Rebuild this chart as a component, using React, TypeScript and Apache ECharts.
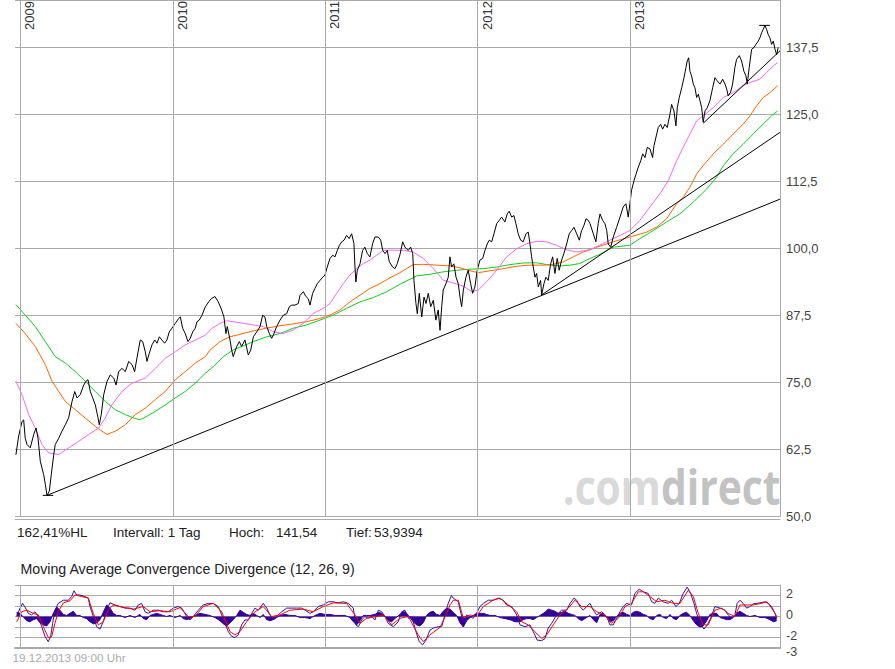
import React, { useEffect, useRef } from "react";
import * as echarts from "echarts";

const FONT = '"Liberation Sans", Arial, Helvetica, sans-serif';

// time axis: decimal years
const T_MIN = 2008.964;
const T_MAX = 2013.984;
const yearTicks = [2009, 2010, 2011, 2012, 2013];
const macdLabelValues = [2, 0, -2];
const macdBottomLabel = [-3];

// closing prices [decimal year, value]
const price2009 = [
  [2008.970,61.5],[2008.988,65.0],[2009.010,67.7],[2009.021,68.0],[2009.031,64.6],[2009.043,63.4],[2009.064,62.8],[2009.087,65.3],[2009.102,66.5],[2009.115,64.6],
  [2009.130,60.3],[2009.152,57.8],[2009.163,56.0],[2009.174,53.94],[2009.189,54.7],[2009.202,57.8],[2009.218,61.5],[2009.228,63.4],[2009.251,64.6],[2009.272,65.9],
  [2009.294,67.1],[2009.316,68.4],[2009.338,71.4],[2009.356,73.3],[2009.371,72.1],[2009.392,72.7],[2009.415,74.5],[2009.430,75.2],[2009.443,75.5],[2009.458,73.3],
  [2009.474,72.1],[2009.491,70.8],[2009.509,68.4],[2009.517,67.1],[2009.530,69.0],[2009.546,72.7],[2009.568,75.2],[2009.589,76.4],[2009.612,75.8],[2009.627,74.5],
  [2009.644,77.0],[2009.666,77.6],[2009.688,77.0],[2009.710,78.9],[2009.732,78.3],[2009.749,77.0],[2009.764,79.5],[2009.786,82.9],[2009.802,82.6],[2009.819,80.7],
  [2009.830,78.9],[2009.845,80.4],[2009.863,82.0],[2009.881,82.9],[2009.896,82.3],[2009.911,83.5],[2009.928,82.9],[2009.946,82.3],[2009.961,82.9],[2009.976,84.4],
  [2009.994,85.1]
];
const price2010 = [
  [2010.016,86.0],[2010.038,86.9],[2010.049,87.2],[2010.064,85.1],[2010.081,84.1],[2010.099,82.6],[2010.114,83.2],[2010.130,84.4],[2010.147,85.1],[2010.158,86.3],
  [2010.173,86.6],[2010.191,87.5],[2010.213,89.1],[2010.235,90.0],[2010.252,90.6],[2010.276,91.0],[2010.298,90.0],[2010.320,88.5],[2010.335,87.2],[2010.348,84.1],
  [2010.357,85.4],[2010.375,82.9],[2010.386,81.0],[2010.396,79.8],[2010.419,81.7],[2010.436,82.6],[2010.451,81.7],[2010.473,82.9],[2010.495,80.1],[2010.511,81.0],
  [2010.528,83.5],[2010.550,84.4],[2010.572,85.4],[2010.589,87.5],[2010.604,87.2],[2010.616,85.4],[2010.633,84.1],[2010.648,83.2],[2010.659,83.8],[2010.681,85.4],
  [2010.703,86.6],[2010.724,87.5],[2010.747,87.8],[2010.764,89.1],[2010.780,89.4],[2010.801,89.4],[2010.823,89.7],[2010.834,91.2],[2010.856,91.9],[2010.873,91.0],
  [2010.888,90.6],[2010.900,89.4],[2010.917,91.6],[2010.932,92.5],[2010.948,93.4],[2010.965,94.0],[2010.983,94.6],[2010.998,95.0]
];
const price2011 = [
  [2011.013,96.5],[2011.031,98.1],[2011.049,98.7],[2011.064,98.4],[2011.079,99.6],[2011.092,100.5],[2011.108,101.2],[2011.123,101.5],[2011.140,102.4],[2011.157,101.8],
  [2011.173,102.7],[2011.188,100.9],[2011.195,96.5],[2011.201,93.7],[2011.210,95.9],[2011.228,97.1],[2011.245,99.6],[2011.260,100.2],[2011.276,99.0],[2011.293,98.4],
  [2011.311,100.9],[2011.326,102.1],[2011.348,102.1],[2011.364,101.5],[2011.377,99.6],[2011.392,99.0],[2011.407,99.6],[2011.420,97.5],[2011.442,96.5],[2011.457,96.2],
  [2011.472,97.1],[2011.490,98.8],[2011.508,101.2],[2011.523,100.2],[2011.545,99.6],[2011.560,100.2],[2011.574,99.0],[2011.582,94.0],[2011.595,89.7],[2011.604,87.8],
  [2011.617,91.6],[2011.633,87.2],[2011.648,90.9],[2011.661,89.7],[2011.676,91.6],[2011.692,89.1],[2011.709,90.3],[2011.726,86.6],[2011.741,88.5],[2011.753,84.7],
  [2011.764,89.1],[2011.774,92.2],[2011.792,93.4],[2011.807,94.6],[2011.818,98.4],[2011.829,96.5],[2011.844,97.1],[2011.858,94.6],[2011.873,93.4],[2011.884,90.9],
  [2011.895,89.1],[2011.906,92.2],[2011.923,94.6],[2011.938,95.9],[2011.954,93.4],[2011.967,91.6],[2011.982,92.8],[2011.997,95.9]
];
const price2012 = [
  [2012.015,97.8],[2012.033,98.1],[2012.048,99.6],[2012.063,100.8],[2012.076,101.5],[2012.092,101.2],[2012.107,102.7],[2012.125,104.6],[2012.142,105.2],[2012.157,105.8],
  [2012.179,104.9],[2012.194,106.4],[2012.207,106.9],[2012.223,105.8],[2012.238,106.1],[2012.251,104.6],[2012.266,102.7],[2012.282,101.5],[2012.299,101.2],[2012.317,102.7],
  [2012.332,103.0],[2012.343,100.9],[2012.354,98.4],[2012.365,96.5],[2012.376,94.6],[2012.387,95.3],[2012.398,92.8],[2012.413,94.0],[2012.420,91.3],[2012.435,93.4],
  [2012.448,94.6],[2012.463,94.0],[2012.479,97.1],[2012.492,98.4],[2012.507,95.3],[2012.522,98.1],[2012.535,95.9],[2012.551,97.8],[2012.566,99.0],[2012.584,100.8],
  [2012.601,102.7],[2012.617,103.3],[2012.632,103.9],[2012.650,102.7],[2012.667,101.5],[2012.682,103.3],[2012.698,104.3],[2012.711,105.5],[2012.726,105.2],[2012.737,104.6],
  [2012.759,102.7],[2012.776,101.2],[2012.791,104.6],[2012.803,106.4],[2012.820,105.2],[2012.835,104.6],[2012.847,103.3],[2012.857,100.8],[2012.873,100.2],[2012.890,102.1],
  [2012.912,103.9],[2012.934,105.8],[2012.955,107.7],[2012.973,108.3],[2012.988,105.8],[2012.999,108.3]
];
const price2013 = [
  [2013.010,110.8],[2013.026,112.6],[2013.039,113.8],[2013.054,115.1],[2013.070,116.3],[2013.083,117.6],[2013.098,116.9],[2013.113,118.8],[2013.131,118.5],[2013.148,116.9],
  [2013.157,119.1],[2013.175,121.3],[2013.185,122.5],[2013.201,123.1],[2013.214,122.2],[2013.229,123.1],[2013.244,122.5],[2013.262,125.0],[2013.273,126.8],[2013.288,125.6],
  [2013.301,122.8],[2013.310,126.2],[2013.323,128.1],[2013.339,129.9],[2013.354,131.8],[2013.367,133.7],[2013.375,134.9],[2013.385,135.5],[2013.393,133.0],[2013.404,132.1],
  [2013.415,130.6],[2013.426,129.9],[2013.437,128.1],[2013.448,128.7],[2013.459,127.5],[2013.470,126.2],[2013.480,123.5],[2013.492,125.6],[2013.507,126.2],[2013.524,127.5],
  [2013.542,129.9],[2013.557,131.8],[2013.572,131.2],[2013.590,130.6],[2013.608,131.5],[2013.623,130.6],[2013.634,129.7],[2013.644,128.4],[2013.660,129.1],[2013.673,130.6],
  [2013.688,133.7],[2013.699,135.2],[2013.717,135.9],[2013.732,134.9],[2013.747,133.0],[2013.761,132.1],[2013.769,130.6],[2013.782,133.7],[2013.798,137.1],[2013.813,137.4],
  [2013.826,138.0],[2013.841,138.6],[2013.852,139.2],[2013.864,140.2],[2013.874,140.8],[2013.885,141.54],[2013.896,140.8],[2013.907,139.8],[2013.918,139.2],[2013.929,138.0],
  [2013.940,138.6],[2013.951,137.1],[2013.962,136.1],[2013.972,137.4]
];

// moving averages (pink, orange, green)
const maPink = [
  [2008.970,75.2],[2009.010,72.7],[2009.054,69.0],[2009.097,66.5],[2009.141,63.4],[2009.185,61.85],[2009.251,61.55],[2009.316,62.8],[2009.382,64.0],[2009.448,65.3],
  [2009.513,66.5],[2009.556,68.35],[2009.600,70.8],[2009.666,73.3],[2009.732,74.85],[2009.819,75.8],[2009.885,77.6],[2009.950,79.5],[2010.016,80.7],[2010.081,82.0],
  [2010.147,82.9],[2010.213,83.8],[2010.257,85.1],[2010.309,86.0],[2010.353,86.5],[2010.396,86.3],[2010.462,86.0],[2010.528,85.7],[2010.593,85.4],[2010.659,84.45],
  [2010.724,84.1],[2010.790,84.75],[2010.856,86.0],[2010.921,87.85],[2010.987,88.8],[2011.031,89.7],[2011.075,91.6],[2011.118,93.4],[2011.162,95.0],[2011.206,96.2],
  [2011.249,97.15],[2011.293,97.8],[2011.337,98.7],[2011.381,99.6],[2011.425,99.65],[2011.512,99.6],[2011.577,99.3],[2011.643,98.1],[2011.709,96.2],[2011.774,94.05],
  [2011.840,93.55],[2011.906,92.95],[2011.961,91.9],[2012.004,92.2],[2012.059,93.75],[2012.125,95.9],[2012.190,98.4],[2012.256,99.9],[2012.322,100.85],[2012.387,101.3],
  [2012.453,101.2],[2012.518,100.55],[2012.584,99.7],[2012.650,99.3],[2012.715,99.6],[2012.759,100.0],[2012.847,101.2],[2012.934,102.4],[2012.999,103.3],[2013.065,105.2],
  [2013.131,107.7],[2013.196,110.15],[2013.251,112.6],[2013.306,116.35],[2013.349,118.8],[2013.393,121.3],[2013.437,123.75],[2013.480,124.7],[2013.546,126.2],[2013.612,128.1],
  [2013.677,129.0],[2013.743,130.3],[2013.787,130.9],[2013.852,131.5],[2013.896,132.75],[2013.940,134.0],[2013.969,134.6]
];
const maOrange = [
  [2008.970,86.0],[2009.031,84.1],[2009.097,81.7],[2009.163,78.3],[2009.207,75.2],[2009.251,73.3],[2009.294,71.45],[2009.360,69.9],[2009.425,68.35],[2009.491,66.8],
  [2009.535,65.9],[2009.568,65.3],[2009.622,65.9],[2009.688,67.1],[2009.753,69.0],[2009.819,70.2],[2009.885,71.8],[2009.950,73.3],[2010.016,75.5],[2010.081,77.0],
  [2010.147,78.6],[2010.213,79.8],[2010.243,81.0],[2010.309,82.6],[2010.375,83.5],[2010.440,83.95],[2010.528,84.6],[2010.616,85.1],[2010.703,85.55],[2010.790,85.9],
  [2010.878,86.3],[2010.965,86.9],[2011.031,87.55],[2011.096,88.5],[2011.162,90.0],[2011.228,91.25],[2011.293,92.5],[2011.359,93.4],[2011.425,94.5],[2011.490,95.45],
  [2011.577,96.95],[2011.643,97.0],[2011.731,96.85],[2011.818,96.7],[2011.884,96.35],[2011.950,95.8],[2012.004,95.45],[2012.081,95.8],[2012.168,96.2],[2012.256,96.65],
  [2012.343,96.85],[2012.430,96.85],[2012.496,97.0],[2012.562,97.45],[2012.627,98.4],[2012.693,99.3],[2012.737,99.7],[2012.781,100.2],[2012.890,101.2],[2012.999,102.1],
  [2013.109,103.0],[2013.175,103.95],[2013.240,105.5],[2013.306,108.3],[2013.349,109.5],[2013.393,111.4],[2013.437,113.85],[2013.480,115.4],[2013.546,117.6],[2013.612,119.4],
  [2013.677,121.3],[2013.743,123.15],[2013.787,124.7],[2013.831,126.55],[2013.874,128.1],[2013.918,129.0],[2013.969,130.3]
];
const maGreen = [
  [2008.970,89.5],[2009.031,87.55],[2009.097,85.4],[2009.163,82.6],[2009.228,79.8],[2009.294,78.6],[2009.360,77.0],[2009.425,75.2],[2009.491,73.3],[2009.556,71.45],
  [2009.622,69.9],[2009.688,69.0],[2009.753,68.25],[2009.786,68.05],[2009.819,68.5],[2009.885,69.6],[2009.950,70.8],[2010.016,72.1],[2010.081,73.3],[2010.147,74.85],
  [2010.213,76.7],[2010.265,77.95],[2010.331,79.8],[2010.396,81.05],[2010.462,81.8],[2010.528,82.6],[2010.616,83.5],[2010.703,84.1],[2010.790,85.1],[2010.878,85.7],
  [2010.965,86.6],[2011.053,87.55],[2011.140,88.8],[2011.228,90.0],[2011.315,90.8],[2011.403,91.9],[2011.490,93.3],[2011.600,94.85],[2011.687,95.15],[2011.774,95.6],
  [2011.862,95.9],[2011.950,96.1],[2012.037,96.2],[2012.125,96.5],[2012.212,96.95],[2012.299,97.25],[2012.387,97.3],[2012.474,96.85],[2012.540,96.7],[2012.606,96.85],
  [2012.671,97.15],[2012.715,97.8],[2012.803,98.9],[2012.890,100.2],[2012.999,100.55],[2013.065,101.8],[2013.152,103.3],[2013.240,104.9],[2013.327,106.4],[2013.415,108.6],
  [2013.503,111.05],[2013.568,113.25],[2013.612,115.4],[2013.677,117.6],[2013.743,119.4],[2013.808,121.3],[2013.874,123.15],[2013.929,124.7],[2013.969,125.6]
];

// trend lines and high / low markers
const trendLong = [[2009.174, 53.94], [2013.984, 109.15]];
const trendMid = [[2012.420, 91.3], [2013.984, 121.6]];
const trendShort = [[2013.480, 123.3], [2013.984, 136.8]];
const highMark = [[2013.848, 141.54], [2013.918, 141.54]];
const lowMark = [[2009.146, 53.94], [2009.215, 53.94]];

// MACD (12, 26, 9)
const macdLine = [
  [2008.975,0],[2008.997,0.8],[2009.014,1.25],[2009.030,0.9],[2009.051,0.3],[2009.073,0.15],[2009.095,0.45],[2009.117,0],[2009.139,-0.97],[2009.161,-1.9],
  [2009.182,-2.4],[2009.198,-1.9],[2009.211,-0.65],[2009.226,0.6],[2009.248,1.25],[2009.281,1.55],[2009.314,1.55],[2009.336,1.9],[2009.351,2.45],[2009.369,2.05],
  [2009.390,2.05],[2009.423,1.9],[2009.445,1.75],[2009.456,0.95],[2009.478,0],[2009.500,-0.97],[2009.522,-1.2],[2009.543,-0.5],[2009.566,0.6],[2009.587,1.3],
  [2009.620,1.1],[2009.653,0.95],[2009.686,0.8],[2009.719,0.8],[2009.751,0.6],[2009.773,1.1],[2009.795,1.25],[2009.817,0.45],[2009.839,0.3],[2009.871,0.6],
  [2009.904,0.6],[2009.937,0.45],[2009.970,0.45],[2010.003,0.8],[2010.035,0.95],[2010.058,0.8],[2010.091,0],[2010.112,-0.33],[2010.134,0],[2010.167,0.6],
  [2010.199,1.1],[2010.232,1.25],[2010.265,1.25],[2010.298,0.95],[2010.320,0.15],[2010.342,-0.65],[2010.364,-1.45],[2010.386,-1.9],[2010.407,-2.0],[2010.429,-1.75],
  [2010.451,-0.8],[2010.473,-0.33],[2010.495,-0.33],[2010.517,0.3],[2010.539,0.8],[2010.560,0.6],[2010.593,1.25],[2010.616,0.8],[2010.637,0.15],[2010.659,-0.33],
  [2010.681,0],[2010.714,0.45],[2010.747,0.8],[2010.780,0.8],[2010.812,0.8],[2010.845,0.8],[2010.867,0.6],[2010.900,0.3],[2010.921,0.45],[2010.954,0.95],
  [2010.987,1.1],[2011.020,1.4],[2011.052,1.4],[2011.085,1.3],[2011.118,1.4],[2011.151,1.25],[2011.184,0.8],[2011.201,-0.8],[2011.217,-0.97],[2011.239,-0.33],
  [2011.260,0],[2011.282,-0.17],[2011.304,0],[2011.326,-0.33],[2011.348,0.6],[2011.370,0.45],[2011.392,0],[2011.413,-0.65],[2011.446,-0.97],[2011.479,-0.5],
  [2011.501,0.45],[2011.523,0.6],[2011.545,-0.17],[2011.567,0],[2011.595,-1.45],[2011.617,-2.4],[2011.639,-2.7],[2011.661,-2.25],[2011.687,-1.3],[2011.709,-1.1],
  [2011.741,-0.97],[2011.764,-0.97],[2011.785,0.15],[2011.807,1.25],[2011.828,2.0],[2011.840,1.75],[2011.873,1.4],[2011.895,0],[2011.910,-0.5],[2011.928,0.15],
  [2011.950,0],[2011.971,-0.17],[2011.993,0.3],[2012.015,0.95],[2012.037,1.25],[2012.070,1.55],[2012.102,1.55],[2012.135,1.75],[2012.168,1.55],[2012.190,1.1],
  [2012.223,0.95],[2012.256,0.15],[2012.278,-0.8],[2012.310,-0.97],[2012.343,-0.8],[2012.365,-1.45],[2012.391,-2.25],[2012.420,-2.3],[2012.442,-2.1],[2012.463,-1.1],
  [2012.486,-0.65],[2012.518,0.15],[2012.551,0.6],[2012.584,0.6],[2012.606,1.25],[2012.632,1.75],[2012.650,1.55],[2012.671,0.95],[2012.693,0.6],[2012.715,0.95],
  [2012.737,1.25],[2012.759,0.6],[2012.781,0.15],[2012.814,0.45],[2012.847,0],[2012.868,-0.8],[2012.890,-0.8],[2012.912,-0.17],[2012.934,0.45],[2012.955,0.95],
  [2012.978,1.25],[2013.010,1.1],[2013.032,2.2],[2013.060,2.6],[2013.087,2.35],[2013.119,2.2],[2013.142,1.4],[2013.163,1.25],[2013.185,1.75],[2013.218,1.4],
  [2013.251,1.25],[2013.273,1.55],[2013.301,0.95],[2013.323,1.25],[2013.349,2.2],[2013.375,2.8],[2013.398,2.2],[2013.419,1.25],[2013.437,0.3],[2013.459,-0.65],
  [2013.485,-1.2],[2013.507,-0.8],[2013.529,-0.17],[2013.557,0.95],[2013.590,0.8],[2013.623,0.6],[2013.644,0.15],[2013.667,-0.17],[2013.688,0.15],[2013.703,1.25],
  [2013.721,1.55],[2013.743,1.25],[2013.765,0.8],[2013.787,0.95],[2013.808,1.2],[2013.852,1.3],[2013.885,1.4],[2013.907,1.25],[2013.929,0.8],[2013.951,0.3],
  [2013.962,-0.17]
];
const signalLine = [
  [2008.975,-0.5],[2009.008,0.45],[2009.041,0.6],[2009.084,0.3],[2009.117,0.15],[2009.150,-0.97],[2009.182,-2.0],[2009.205,-1.9],[2009.226,-0.65],[2009.248,0.45],
  [2009.281,1.3],[2009.325,1.5],[2009.358,2.05],[2009.402,1.9],[2009.445,1.75],[2009.478,0.3],[2009.511,-0.8],[2009.543,-0.5],[2009.576,0.6],[2009.609,1.1],
  [2009.675,0.87],[2009.740,0.7],[2009.806,0.95],[2009.850,0.45],[2009.915,0.55],[2009.981,0.45],[2010.047,0.85],[2010.101,0],[2010.145,0],[2010.199,0.95],
  [2010.265,1.25],[2010.320,0.45],[2010.375,-1.45],[2010.407,-1.75],[2010.440,-1.45],[2010.484,-0.5],[2010.539,0.45],[2010.593,0.95],[2010.648,0],[2010.703,0.15],
  [2010.768,0.6],[2010.856,0.7],[2010.921,0.45],[2010.987,0.95],[2011.052,1.3],[2011.140,1.25],[2011.195,0.15],[2011.228,-0.65],[2011.272,-0.17],[2011.337,0],
  [2011.381,0.15],[2011.436,-0.8],[2011.490,-0.17],[2011.545,0],[2011.610,-1.75],[2011.643,-2.4],[2011.687,-1.75],[2011.753,-1.03],[2011.797,0.3],[2011.818,1.1],
  [2011.840,1.55],[2011.873,1.55],[2011.906,-0.17],[2011.950,0.15],[2011.993,0],[2012.037,0.95],[2012.102,1.55],[2012.146,1.75],[2012.201,1.1],[2012.256,0.45],
  [2012.289,-0.5],[2012.332,-0.8],[2012.376,-1.45],[2012.420,-2.1],[2012.453,-1.75],[2012.496,-0.8],[2012.540,0.15],[2012.595,0.8],[2012.638,1.55],[2012.682,0.95],
  [2012.737,0.95],[2012.781,0.45],[2012.835,0.15],[2012.879,-0.65],[2012.923,-0.17],[2012.967,0.95],[2013.010,1.25],[2013.054,2.35],[2013.087,2.35],[2013.131,1.9],
  [2013.175,1.4],[2013.229,1.55],[2013.283,1.25],[2013.327,1.25],[2013.382,2.5],[2013.415,1.9],[2013.448,0.3],[2013.480,-0.8],[2013.513,-0.8],[2013.557,0.6],
  [2013.601,0.8],[2013.644,0.3],[2013.688,0],[2013.721,1.1],[2013.765,1.1],[2013.808,1.1],[2013.864,1.25],[2013.896,1.4],[2013.929,0.95],[2013.962,0]
];
const histogram = [
  [2008.975,0.4],[2008.997,0.3],[2009.016,0],[2009.041,-0.4],[2009.062,-0.5],[2009.084,-0.3],[2009.106,-0.2],[2009.128,-0.6],[2009.150,-0.8],[2009.172,-0.9],
  [2009.194,-0.5],[2009.215,0.3],[2009.238,0.9],[2009.259,0.6],[2009.281,0.2],[2009.303,0.1],[2009.325,0.3],[2009.346,0.5],[2009.369,0.1],[2009.390,0.1],
  [2009.412,-0.1],[2009.434,-0.2],[2009.456,-0.5],[2009.478,-0.7],[2009.500,-0.6],[2009.522,-0.3],[2009.543,0.4],[2009.566,1.1],[2009.587,0.8],[2009.609,0.3],
  [2009.631,0.1],[2009.653,0.1],[2009.686,-0.1],[2009.719,0.1],[2009.751,-0.1],[2009.784,0.2],[2009.806,-0.2],[2009.828,-0.3],[2009.850,0.1],[2009.871,0.2],
  [2009.894,0.3],[2009.915,0.2],[2009.937,0.1],[2009.959,0],[2009.981,0.1],[2010.014,-0.1],[2010.047,0.1],[2010.068,-0.2],[2010.091,-0.3],[2010.112,-0.2],
  [2010.145,0.1],[2010.178,0.3],[2010.211,0.2],[2010.243,0.1],[2010.276,-0.1],[2010.309,-0.4],[2010.331,-0.7],[2010.353,-0.9],[2010.375,-0.6],[2010.396,-0.3],
  [2010.419,0.1],[2010.440,0.6],[2010.462,0.4],[2010.484,0.2],[2010.506,0.1],[2010.528,0.3],[2010.550,0.1],[2010.572,-0.1],[2010.593,0.2],[2010.616,-0.3],
  [2010.637,-0.4],[2010.659,-0.3],[2010.681,-0.1],[2010.703,0.1],[2010.736,0.2],[2010.768,0.1],[2010.801,0.1],[2010.834,-0.1],[2010.867,-0.1],[2010.900,-0.2],
  [2010.932,0.1],[2010.965,0.3],[2010.998,0.2],[2011.031,0.2],[2011.064,0.1],[2011.096,0.1],[2011.129,0.1],[2011.162,-0.1],[2011.184,-0.5],[2011.206,-0.8],
  [2011.228,-0.4],[2011.249,0.1],[2011.272,0.1],[2011.293,0.1],[2011.326,0.2],[2011.348,0.4],[2011.370,0.3],[2011.392,0],[2011.413,-0.4],[2011.436,-0.5],
  [2011.457,-0.2],[2011.490,0.2],[2011.512,0.5],[2011.534,0.3],[2011.556,-0.1],[2011.577,-0.5],[2011.600,-0.8],[2011.621,-0.9],[2011.643,-0.6],[2011.665,0.1],
  [2011.687,0.4],[2011.709,0.5],[2011.731,0.2],[2011.753,0.1],[2011.774,0.5],[2011.797,0.8],[2011.818,0.7],[2011.840,0.4],[2011.862,0.1],[2011.884,-0.6],
  [2011.906,-1.0],[2011.928,-0.4],[2011.950,-0.1],[2011.971,0.1],[2011.993,0.3],[2012.015,0.3],[2012.037,0.3],[2012.059,0.2],[2012.081,0.1],[2012.114,0.1],
  [2012.146,-0.1],[2012.179,-0.2],[2012.212,-0.3],[2012.245,-0.5],[2012.278,-0.5],[2012.299,-0.3],[2012.322,-0.2],[2012.343,-0.2],[2012.365,-0.3],[2012.387,-0.1],
  [2012.409,0.1],[2012.442,0.4],[2012.463,0.7],[2012.486,0.6],[2012.507,0.5],[2012.529,0.3],[2012.551,0.4],[2012.573,0.5],[2012.595,0.3],[2012.617,0.2],
  [2012.638,0.1],[2012.660,-0.2],[2012.682,-0.4],[2012.704,-0.2],[2012.737,0.1],[2012.759,-0.3],[2012.781,-0.6],[2012.803,0.2],[2012.824,0.3],[2012.847,-0.1],
  [2012.868,-0.5],[2012.890,-0.4],[2012.912,0],[2012.934,0.3],[2012.955,0.4],[2012.978,0.2],[2012.999,0.1],[2013.021,0.4],[2013.043,0.5],[2013.065,0.4],
  [2013.087,0.2],[2013.109,0.1],[2013.131,-0.2],[2013.152,-0.3],[2013.175,0.1],[2013.196,0.2],[2013.218,-0.1],[2013.240,-0.2],[2013.262,0.2],[2013.283,-0.2],
  [2013.306,-0.3],[2013.327,0.1],[2013.349,0.3],[2013.371,0.4],[2013.393,0.1],[2013.415,-0.4],[2013.437,-0.8],[2013.459,-1.0],[2013.480,-0.9],[2013.503,-0.4],
  [2013.524,0.2],[2013.546,0.3],[2013.568,0.3],[2013.590,-0.1],[2013.612,-0.2],[2013.634,-0.3],[2013.656,-0.3],[2013.677,-0.1],[2013.699,0.3],[2013.721,0.5],
  [2013.743,0.3],[2013.765,0.1],[2013.787,0],[2013.820,0.1],[2013.852,-0.1],[2013.885,-0.1],[2013.918,-0.3],[2013.940,-0.5],[2013.962,-0.4]
];

const infoTexts = [
  { x: 17, text: "162,41%HL" },
  { x: 113, text: "Intervall: 1 Tag" },
  { x: 229, text: "Hoch:" },
  { x: 276, text: "141,54" },
  { x: 346, text: "Tief:" },
  { x: 374, text: "53,9394" },
];

function yearMarkLine(withLabel: boolean) {
  return {
    silent: true,
    symbol: ["none", "none"],
    animation: false,
    lineStyle: { color: "#aaaaaa", type: "solid", width: 1 },
    emphasis: { disabled: true },
    label: withLabel
      ? {
          show: true,
          position: "insideEndBottom",
          formatter: "{b}",
          color: "#333333",
          fontSize: 13,
          fontFamily: FONT,
          distance: [1, 3],
        }
      : { show: false },
    data: yearTicks.map((y) => ({ xAxis: y, name: String(y) })),
  };
}

function lineSeries(data: number[][], color: string, extra: any = {}) {
  return {
    type: "line",
    data,
    showSymbol: false,
    symbol: "none",
    smooth: false,
    lineStyle: { color, width: 1 },
    itemStyle: { color },
    emphasis: { disabled: true },
    silent: true,
    xAxisIndex: 0,
    yAxisIndex: 0,
    ...extra,
  };
}

function txt(x: number, y: number, text: string, size: number, fill: string) {
  return {
    type: "text",
    x,
    y,
    silent: true,
    z: 10,
    style: { text, fill, font: `${size}px ${FONT}`, align: "left", verticalAlign: "middle" },
  };
}

function macdYAxis(labels: number[], withLines: boolean, tokenPadding: number[]) {
  return {
    type: "value",
    gridIndex: 1,
    position: "right",
    min: -3,
    max: 3,
    interval: 1,
    axisLine: { show: withLines, lineStyle: { color: "#aaaaaa" } },
    axisTick: { show: false },
    axisLabel: {
      showMinLabel: true,
      showMaxLabel: true,
      margin: 6,
      color: "#444444",
      fontSize: 12.5,
      fontFamily: FONT,
      formatter: (v: number) => {
        const r = Math.round(v);
        return labels.indexOf(r) >= 0 ? `{t|${r}}` : "";
      },
      rich: {
        t: {
          color: "#444444",
          fontSize: 12.5,
          lineHeight: 12.5,
          fontFamily: FONT,
          padding: tokenPadding,
        },
      },
    },
    splitLine: { show: withLines, lineStyle: { color: "#aaaaaa", width: 1 } },
  };
}

export default function App() {
  const ref = useRef<HTMLDivElement>(null);
  useEffect(() => {
    const chart = echarts.init(ref.current!, null, { renderer: "svg" });
    const price = [...price2009, ...price2010, ...price2011, ...price2012, ...price2013];
    const axisBase = {
      axisTick: { show: false },
      splitLine: { show: false },
    };
    const option: any = {
      animation: false,
      backgroundColor: "#ffffff",
      grid: [
        { left: 15, top: -2, width: 765, height: 518.5 },
        { left: 15, top: 585, width: 765, height: 63 },
      ],
      xAxis: [
        {
          ...axisBase,
          type: "value",
          gridIndex: 0,
          min: T_MIN,
          max: T_MAX,
          offset: 3,
          axisLine: { show: true, onZero: false, lineStyle: { color: "#aaaaaa" } },
          axisLabel: { show: false },
        },
        {
          ...axisBase,
          type: "value",
          gridIndex: 1,
          min: T_MIN,
          max: T_MAX,
          axisLine: { show: true, onZero: false, lineStyle: { color: "#aaaaaa", width: 2 } },
          axisLabel: { show: false },
        },
      ],
      yAxis: [
        {
          type: "value",
          gridIndex: 0,
          position: "right",
          min: 50,
          max: 146.27,
          interval: 12.5,
          axisLine: { show: true, lineStyle: { color: "#aaaaaa" } },
          axisTick: { show: false },
          axisLabel: {
            showMaxLabel: false,
            showMinLabel: true,
            margin: 6,
            color: "#444444",
            fontSize: 13,
            fontFamily: FONT,
            formatter: (v: number) => v.toFixed(1).replace(".", ","),
          },
          splitLine: { show: true, lineStyle: { color: "#aaaaaa", width: 1 } },
        },
        macdYAxis(macdLabelValues, true, [0, 0, 3, 0]),
        macdYAxis(macdBottomLabel, false, [8, 0, 0, 0]),
      ],
      series: [
        lineSeries(maGreen, "#11cc22", { markLine: yearMarkLine(true) }),
        lineSeries(maOrange, "#ff6600"),
        lineSeries(maPink, "#f26af2"),
        lineSeries(trendLong, "#000000"),
        lineSeries(trendMid, "#000000"),
        lineSeries(trendShort, "#000000"),
        lineSeries(highMark, "#000000"),
        lineSeries(lowMark, "#000000"),
        lineSeries(price, "#000000", { z: 3 }),
        lineSeries(histogram, "#330099", {
          xAxisIndex: 1,
          yAxisIndex: 1,
          areaStyle: { color: "#330099", opacity: 1, origin: 0 },
          markLine: yearMarkLine(false),
        }),
        lineSeries(macdLine, "#3311aa", { xAxisIndex: 1, yAxisIndex: 1 }),
        lineSeries(signalLine, "#ff0000", { xAxisIndex: 1, yAxisIndex: 1 }),
      ],
      graphic: [
        {
          type: "text",
          x: 563,
          y: 486,
          scaleX: 0.85,
          silent: true,
          z: 1,
          style: {
            text: "{a|.com}{b|direct}",
            font: 'bold 48px "Open Sans"',
            verticalAlign: "middle",
            align: "left",
            rich: {
              a: { fill: "#d9d9d9", font: 'bold 48px "Open Sans"' },
              b: { fill: "#c2c2c2", font: 'bold 48px "Open Sans"' },
            },
          },
        },
        ...infoTexts.map((t) => txt(t.x, 532.5, t.text, 13.5, "#222222")),
        txt(20.5, 568.5, "Moving Average Convergence Divergence (12, 26, 9)", 14.2, "#222222"),
        txt(12.5, 657.5, "19.12.2013 09:00 Uhr", 11.7, "#aaaaaa"),
      ],
    };
    chart.setOption(option);
    return () => chart.dispose();
  }, []);
  return (
    <div
      ref={ref}
      style={{ position: "absolute", left: 0, top: 0, width: 895, height: 669 }}
    />
  );
}
